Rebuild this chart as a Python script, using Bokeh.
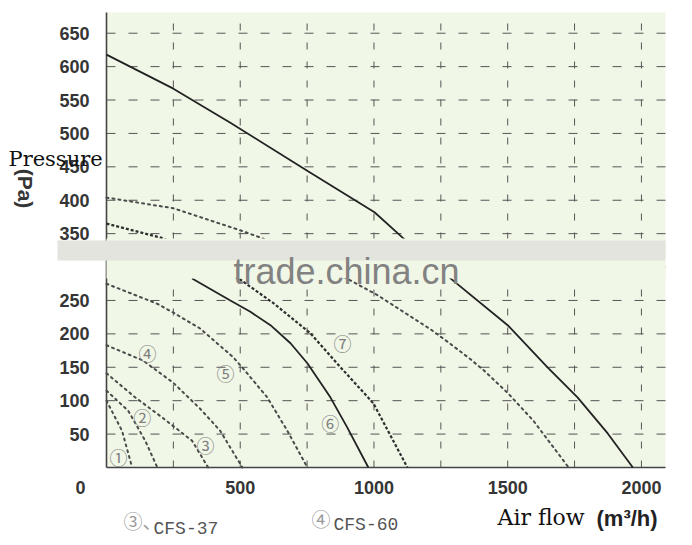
import math
from bokeh.plotting import figure
from bokeh.models import Label, BoxAnnotation
from bokeh.core.properties import value
from bokeh.embed import file_html
from bokeh.resources import INLINE

# ---------------- data (air flow m3/h, pressure Pa) ----------------
c1_x = [0, 58, 96]
c1_y = [100, 55, 0]
c2_x = [0, 81, 145, 190]
c2_y = [115, 85, 40, 0]
c3_x = [0, 107, 208, 320, 380]
c3_y = [141, 105, 75, 40, 0]
c4_x = [0, 137, 249, 350, 425, 508]
c4_y = [183, 160, 127, 88, 55, 0]
c5_x = [0, 190, 249, 350, 474, 507, 601, 676, 751]
c5_y = [275, 245, 232, 208, 165, 150, 105, 55, 0]
c6_x = [320, 463, 538, 613, 688, 751, 837, 900, 979]
c6_y = [283, 250, 233, 213, 186, 156, 105, 60, 0]
c7_x = [0, 212, 501, 624, 762, 875, 998, 1125]
c7_y = [365, 343, 281, 246, 201, 150, 96, 0]
cA_x = [0, 250, 463, 755, 1002, 1107, 1286, 1500, 1649, 1761, 1874, 1968]
cA_y = [618, 567, 516, 443, 382, 344, 283, 213, 150, 105, 51, 0]
cB_x = [0, 250, 500, 583, 912, 1013, 1110, 1211, 1286, 1361, 1409, 1499, 1596, 1728]
cB_y = [404, 388, 355, 343, 280, 258, 233, 207, 185, 162, 146, 112, 70, 0]

curve_tags = ["①", "②", "③", "④", "⑤", "⑥", "⑦"]
tag_x = [45, 134, 370, 153, 445, 837, 882]
tag_y = [15, 75, 33, 171, 142, 66, 186]

x_grid_ticks = [250, 500, 750, 1000, 1250, 1500, 1750, 2000]
x_label_ticks = [500, 1000, 1500, 2000]
y_grid_ticks = [50, 100, 150, 200, 250, 300, 350, 400, 450, 500, 550, 600, 650]
y_label_ticks = [50, 100, 150, 200, 250, 350, 400, 450, 500, 550, 600, 650]

models = ["CFS-37", "CFS-60"]

# ---------------- layout ----------------
W, H = 684, 537
FL, FT, FW, FH = 106, 12, 559, 455   # plot area inside the canvas (px)
XMAX, YMAX = 2090, 681
BG = "#f1f7e7"


def X(px):
    return (px - FL) * XMAX / FW


def Y(py):
    return (FT + FH - py) * YMAX / FH


p = figure(width=W, height=H, x_range=(X(0), X(W)), y_range=(Y(H), Y(0)),
           output_backend="svg", toolbar_location=None,
           x_axis_location=None, y_axis_location=None,
           min_border=0)
p.background_fill_color = "white"
p.border_fill_color = "white"
p.outline_line_color = None
p.grid.visible = False

# plot area background
p.add_layout(BoxAnnotation(left=0, right=XMAX, bottom=0, top=YMAX, fill_color=BG,
                           fill_alpha=1, line_color=None, level="underlay"))

# grid
p.segment(x0=x_grid_ticks, y0=[0] * len(x_grid_ticks), x1=x_grid_ticks, y1=[YMAX] * len(x_grid_ticks),
          line_color="#555555", line_width=1, line_dash="7 12")
p.segment(x0=[0] * len(y_grid_ticks), y0=y_grid_ticks, x1=[XMAX] * len(y_grid_ticks), y1=y_grid_ticks,
          line_color="#555555", line_width=1, line_dash="9 13")

# axes lines
p.segment(x0=[0, 0], y0=[0, 0], x1=[0, XMAX], y1=[YMAX, 0], line_color="#444444", line_width=1.6)

# tick labels
tick_style = dict(text_font=value("Liberation Sans"), text_font_style="bold",
                  text_font_size="18px", text_color="#353535")
p.text(x=[X(89)] * len(y_label_ticks), y=y_label_ticks, text=[str(t) for t in y_label_ticks],
       text_align="right", text_baseline="middle", **tick_style)
p.text(x=x_label_ticks, y=[Y(487)] * len(x_label_ticks), text=[str(t) for t in x_label_ticks],
       text_align="center", text_baseline="middle", **tick_style)
p.text(x=[X(80)], y=[Y(487)], text=["0"], text_align="center", text_baseline="middle", **tick_style)

# curves
dot = dict(line_dash="2 4", line_width=2, line_cap="round", line_color="#4a4a4a")
for xs, ys in ((c1_x, c1_y), (c2_x, c2_y), (c3_x, c3_y), (c4_x, c4_y), (c5_x, c5_y), (cB_x, cB_y)):
    p.line(xs, ys, **dot)
p.line(c7_x, c7_y, line_dash="3 2", line_width=2.2, line_color="#2e2e2e")
p.line(c6_x, c6_y, line_width=1.8, line_color="#222222")
p.line(cA_x, cA_y, line_width=1.8, line_color="#222222")

p.text(tag_x, tag_y, text=curve_tags, text_align="center", text_baseline="middle",
       text_font=value("Noto Sans CJK SC"), text_font_size="18px", text_color="#808080")

# watermark band (as in the source picture)
p.add_layout(BoxAnnotation(left=0, right=XMAX, bottom=Y(278), top=Y(238), fill_color=BG,
                           fill_alpha=1, line_color=None))
p.add_layout(BoxAnnotation(left=X(57), right=XMAX, bottom=Y(260), top=Y(240), fill_color="#e2e4dd",
                           fill_alpha=1, line_color=None))
p.add_layout(Label(x=X(346), y=Y(271), text="trade.china.cn", text_align="center",
                   text_baseline="alphabetic", text_font="Liberation Sans",
                   text_font_size="36px", text_color="#828282"))

# axis titles and model notes
p.add_layout(Label(x=X(8), y=Y(158), text="Pressure", text_align="left", text_baseline="alphabetic",
                   text_font="DejaVu Serif", text_font_size="21px", text_color="#111111"))
p.add_layout(Label(x=X(25), y=Y(188), text="(Pa)", angle=-math.pi / 2, text_align="center",
                   text_baseline="middle", text_font="Liberation Sans", text_font_style="bold",
                   text_font_size="21px", text_color="#353535"))
p.add_layout(Label(x=X(497), y=Y(517), text="Air flow", text_align="left", text_baseline="alphabetic",
                   text_font="DejaVu Serif", text_font_size="22px", text_color="#111111"))
p.add_layout(Label(x=X(596), y=Y(518), text="(m³/h)", text_align="left", text_baseline="alphabetic",
                   text_font="Liberation Sans", text_font_style="bold",
                   text_font_size="22px", text_color="#222222"))
p.add_layout(Label(x=X(123), y=Y(520), text="③、", text_align="left", text_baseline="middle",
                   text_font="Noto Sans CJK SC", text_font_size="19px", text_color="#999999"))
p.add_layout(Label(x=X(153), y=Y(528), text=models[0], text_align="left", text_baseline="alphabetic",
                   text_font="Liberation Mono", text_font_size="18px", text_color="#555555"))
p.add_layout(Label(x=X(311), y=Y(518), text="④", text_align="left", text_baseline="middle",
                   text_font="Noto Sans CJK SC", text_font_size="19px", text_color="#999999"))
p.add_layout(Label(x=X(333), y=Y(524), text=models[1], text_align="left", text_baseline="alphabetic",
                   text_font="Liberation Mono", text_font_size="18px", text_color="#555555"))

open("out.html", "w").write(file_html(p, INLINE))
